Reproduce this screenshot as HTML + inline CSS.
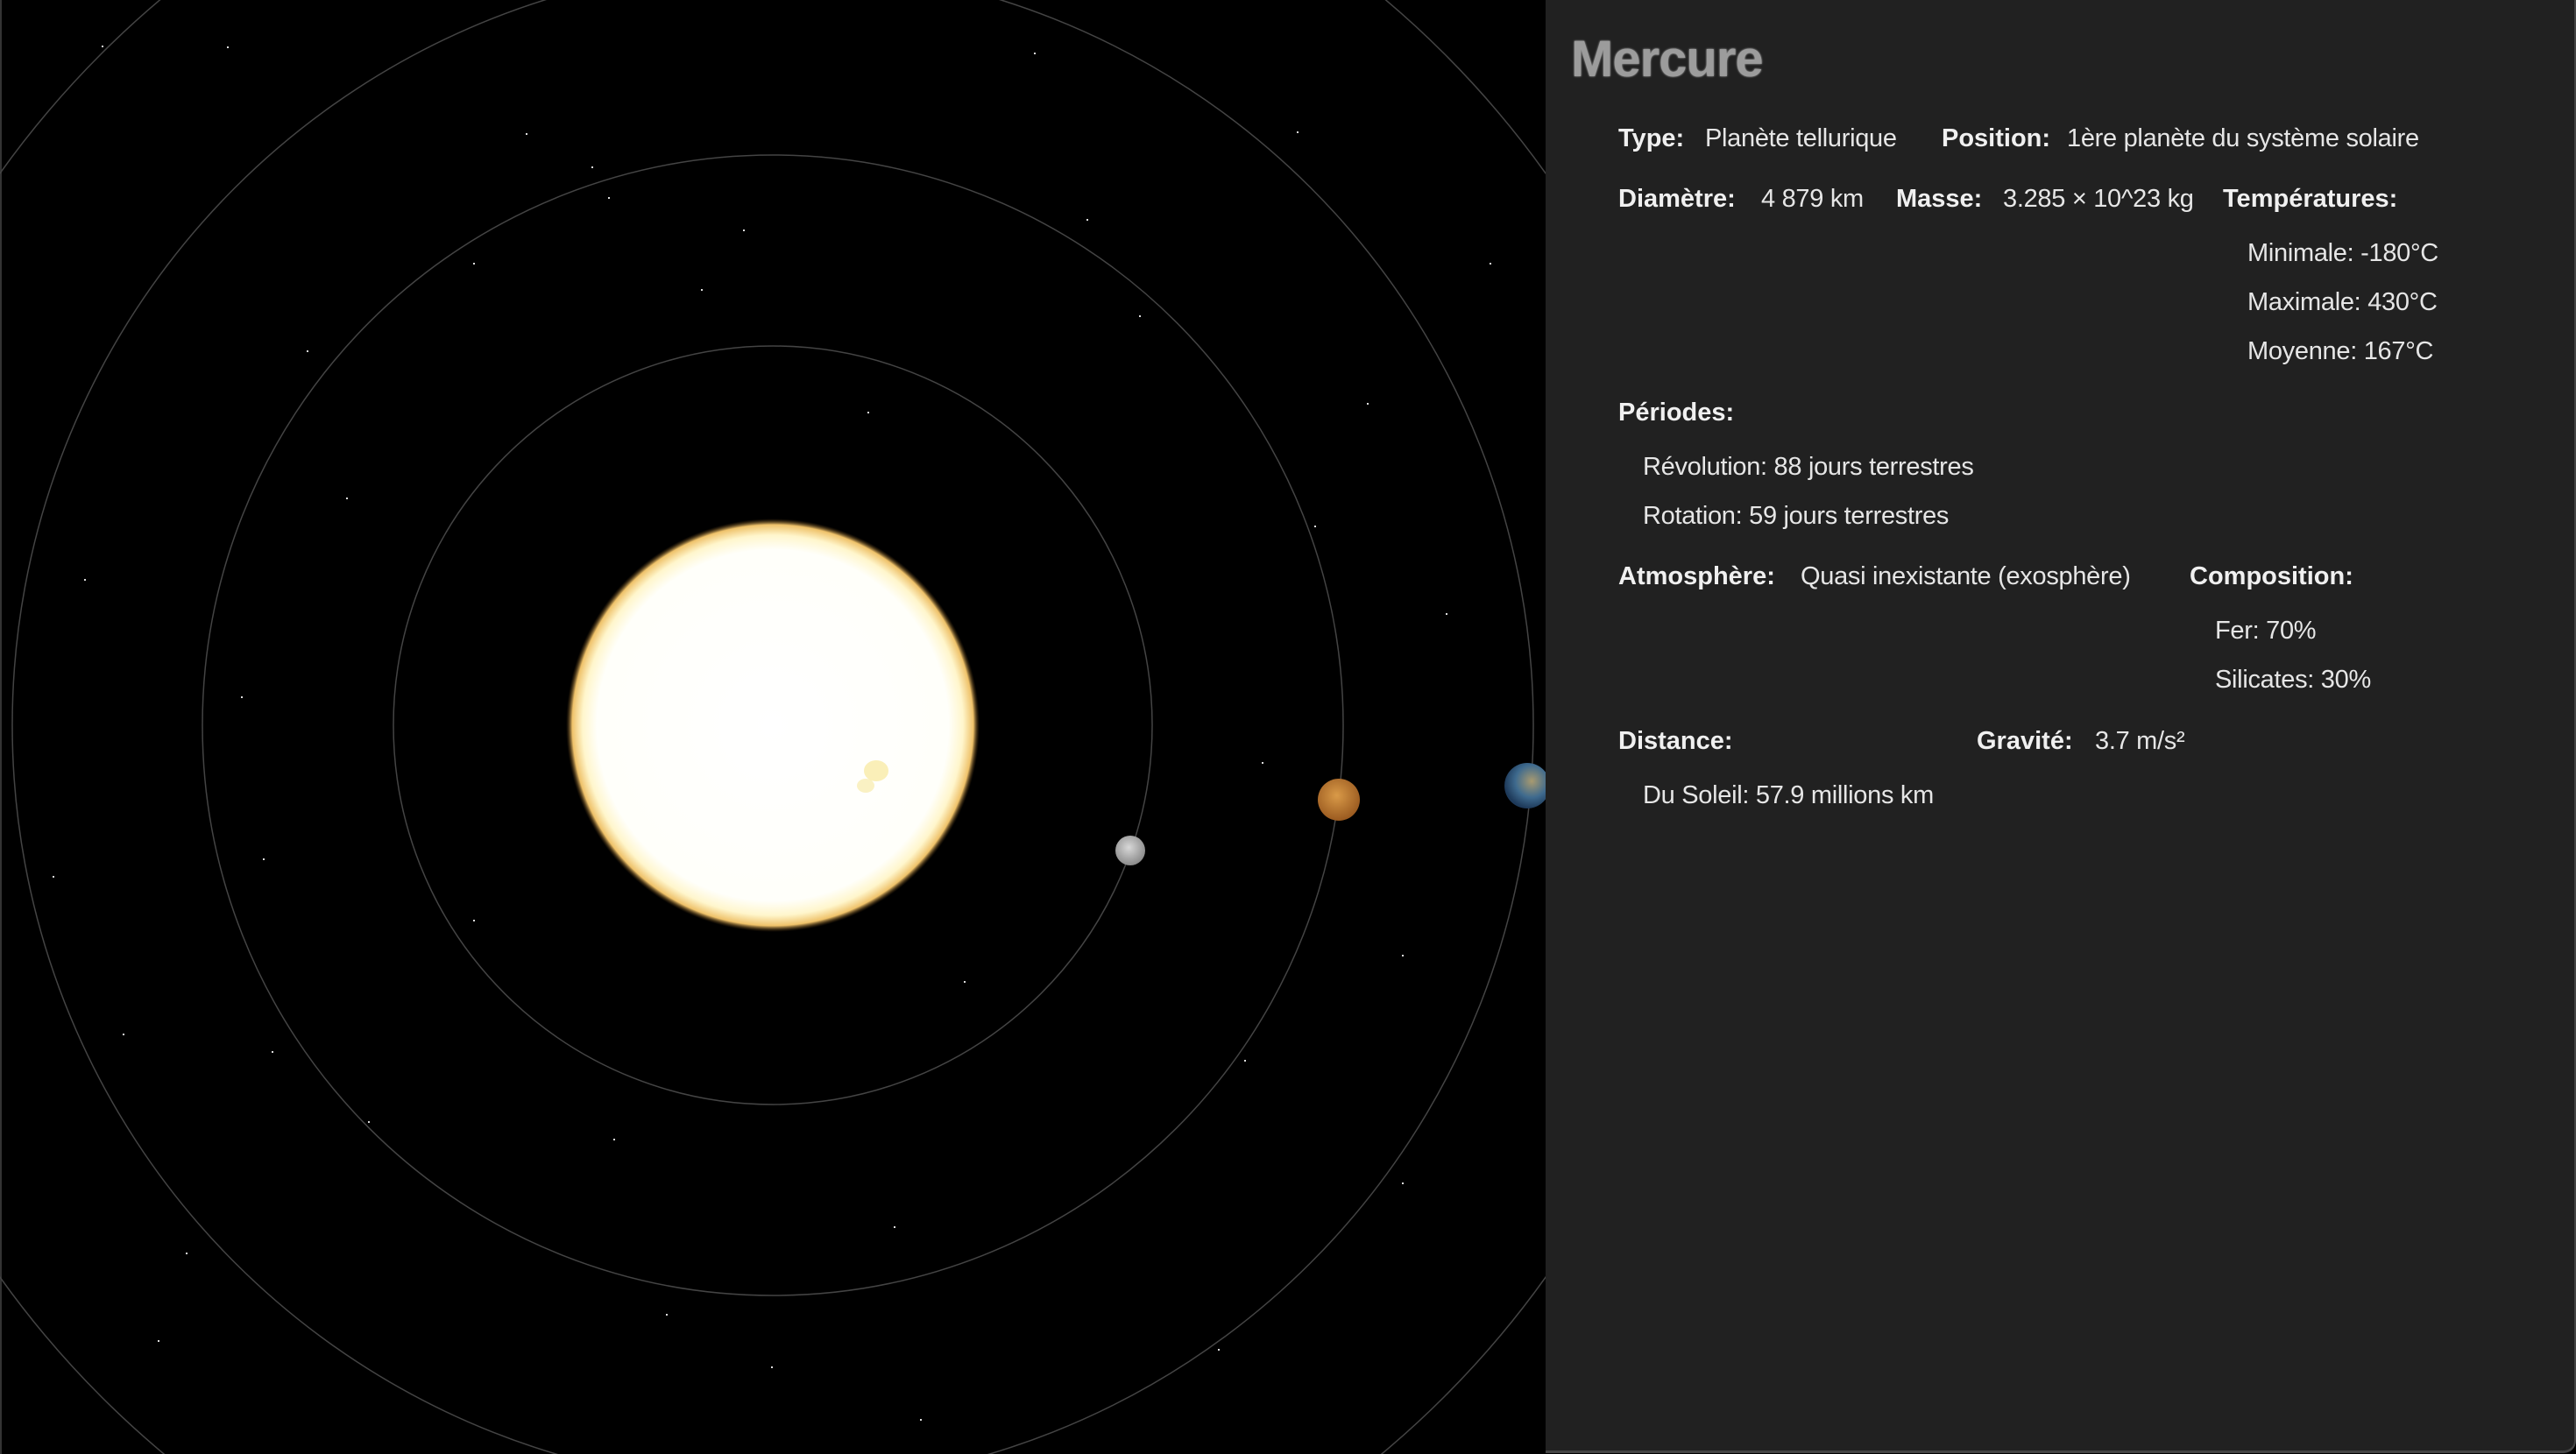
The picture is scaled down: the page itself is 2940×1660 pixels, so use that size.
<!DOCTYPE html>
<html lang="fr"><head><meta charset="utf-8"><title>Mercure</title>
<style>
html,body{margin:0;padding:0;background:#000;width:2940px;height:1660px;overflow:hidden;}
#root{position:relative;width:2940px;height:1660px;overflow:hidden;background:#000;font-family:"Liberation Sans",sans-serif;}
#scene{position:absolute;left:0;top:0;width:1764px;height:1660px;display:block;}
#panel{position:absolute;left:1764px;top:0;width:1174px;height:1656px;background:#212121;border-right:2px solid #444;border-bottom:3px solid #444;border-bottom-right-radius:14px;box-sizing:content-box;}
.t{position:absolute;white-space:nowrap;font-size:29px;color:#e6e6e6;letter-spacing:-0.3px;line-height:1;margin-top:3px;}
.b{font-weight:bold;color:#f0f0f0;letter-spacing:0;}
#title{position:absolute;left:29px;top:34px;font-size:58px;font-weight:bold;color:#9c9c9c;letter-spacing:-1px;text-shadow:0 0 2px #bbb;}
</style></head><body>
<div id="root">
<svg id="scene" width="1764" height="1660" viewBox="0 0 1764 1660">
  <defs>
    <radialGradient id="sunG" cx="50%" cy="50%" r="50%">
      <stop offset="0%" stop-color="#ffffff"/>
      <stop offset="85%" stop-color="#fffffa"/>
      <stop offset="92%" stop-color="#fff6cc"/>
      <stop offset="97%" stop-color="#efc26a"/>
      <stop offset="100%" stop-color="#5a3a10" stop-opacity="0"/>
    </radialGradient>
    <radialGradient id="merG" cx="45%" cy="40%" r="60%"><stop offset="0%" stop-color="#d8d8d8"/><stop offset="100%" stop-color="#8a8a8a"/></radialGradient>
    <radialGradient id="venG" cx="45%" cy="40%" r="60%"><stop offset="0%" stop-color="#d99a48"/><stop offset="100%" stop-color="#9a5a20"/></radialGradient>
    <radialGradient id="earG" cx="60%" cy="40%" r="60%"><stop offset="0%" stop-color="#a89a70"/><stop offset="60%" stop-color="#3e6a8e"/><stop offset="100%" stop-color="#1e3a5a"/></radialGradient>
  </defs>
  <rect x="0" y="0" width="1764" height="1660" fill="#000"/>
  <line x1="1" y1="0" x2="1" y2="1660" stroke="#333" stroke-width="2"/>
  <g id="stars" fill="#ddd"></g>
  <g id="orbits" fill="none" stroke="#444" stroke-width="1.5"></g>
  <circle cx="882" cy="828" r="236" fill="url(#sunG)"/>
  <ellipse cx="1000" cy="880" rx="14" ry="12" fill="#f6e48a" opacity="0.6"/>
  <ellipse cx="988" cy="897" rx="10" ry="8" fill="#f6e48a" opacity="0.5"/>
  <circle cx="1290" cy="971" r="17" fill="url(#merG)"/>
  <circle cx="1528" cy="913" r="24" fill="url(#venG)"/>
  <circle cx="1743" cy="897" r="26" fill="url(#earG)"/>
</svg>
<div id="panel">
  <div id="title">Mercure</div>
  <div class="t b" style="left:83px;top:141px">Type:</div>
  <div class="t" style="left:182px;top:141px">Planète tellurique</div>
  <div class="t b" style="left:452px;top:141px">Position:</div>
  <div class="t" style="left:595px;top:141px">1ère planète du système solaire</div>

  <div class="t b" style="left:83px;top:210px">Diamètre:</div>
  <div class="t" style="left:246px;top:210px">4 879 km</div>
  <div class="t b" style="left:400px;top:210px">Masse:</div>
  <div class="t" style="left:522px;top:210px">3.285 × 10^23 kg</div>
  <div class="t b" style="left:773px;top:210px">Températures:</div>
  <div class="t" style="left:801px;top:272px">Minimale: -180°C</div>
  <div class="t" style="left:801px;top:328px">Maximale: 430°C</div>
  <div class="t" style="left:801px;top:384px">Moyenne: 167°C</div>

  <div class="t b" style="left:83px;top:454px">Périodes:</div>
  <div class="t" style="left:111px;top:516px">Révolution: 88 jours terrestres</div>
  <div class="t" style="left:111px;top:572px">Rotation: 59 jours terrestres</div>

  <div class="t b" style="left:83px;top:641px">Atmosphère:</div>
  <div class="t" style="left:291px;top:641px">Quasi inexistante (exosphère)</div>
  <div class="t b" style="left:735px;top:641px">Composition:</div>
  <div class="t" style="left:764px;top:703px">Fer: 70%</div>
  <div class="t" style="left:764px;top:759px">Silicates: 30%</div>

  <div class="t b" style="left:83px;top:829px">Distance:</div>
  <div class="t b" style="left:492px;top:829px">Gravité:</div>
  <div class="t" style="left:627px;top:829px">3.7 m/s²</div>
  <div class="t" style="left:111px;top:891px">Du Soleil: 57.9 millions km</div>
</div>
</div>
<script>
const orbitRadii = [433, 651, 868, 1084];
const starX = [116,259,600,675,694,848,800,395,96,275,540,310,212,880,1050,1390,1420,1600,1650,1560,1700,1480,1180,300,180,60,420,1020,1440,1300,990,760,140,1600,1100,700,540,1500,350,1240];
const starY = [52,53,152,190,225,262,330,568,661,795,1050,1200,1430,1560,1620,1540,1210,1090,700,460,300,150,60,980,1530,1000,1280,1400,870,360,470,1500,1180,1350,1120,1300,300,600,400,250];
const NS = 'http://www.w3.org/2000/svg';
const og = document.getElementById('orbits');
orbitRadii.forEach(function(r){
  const c = document.createElementNS(NS,'circle');
  c.setAttribute('cx','882'); c.setAttribute('cy','828'); c.setAttribute('r', r);
  
  
  og.appendChild(c);
});
const sg = document.getElementById('stars');
starX.forEach(function(x,i){
  const s = document.createElementNS(NS,'rect');
  s.setAttribute('x', x); s.setAttribute('y', starY[i]); s.setAttribute('width','2'); s.setAttribute('height','2');
  
  
  sg.appendChild(s);
});
</script>
</body></html>
